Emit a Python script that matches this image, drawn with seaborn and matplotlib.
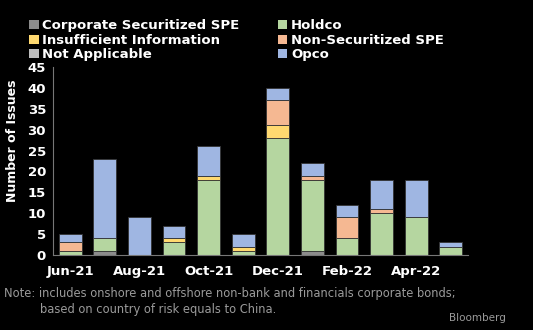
import matplotlib
matplotlib.use("Agg")
import matplotlib.pyplot as plt
from matplotlib.patches import Patch
import seaborn as sns
import numpy as np
import pandas as pd

months = ["Jun-21", "Jul-21", "Aug-21", "Sep-21", "Oct-21", "Nov-21",
          "Dec-21", "Jan-22", "Feb-22", "Mar-22", "Apr-22", "May-22"]
corp_sec_spe = [0, 1, 0, 0, 0, 0, 0, 1, 0, 0, 0, 0]
holdco = [1, 3, 0, 3, 18, 1, 28, 17, 4, 10, 9, 2]
insufficient = [0, 0, 0, 1, 1, 1, 3, 0, 0, 0, 0, 0]
non_sec_spe = [2, 0, 0, 0, 0, 0, 6, 1, 5, 1, 0, 0]
not_applicable = [0, 0, 0, 0, 0, 0, 0, 0, 0, 0, 0, 0]
opco = [2, 19, 9, 3, 7, 3, 3, 3, 3, 7, 9, 1]

series = [
    ("Corporate Securitized SPE", corp_sec_spe, "#8c8c8c"),
    ("Holdco", holdco, "#b5d6a0"),
    ("Insufficient Information", insufficient, "#ffd970"),
    ("Non-Securitized SPE", non_sec_spe, "#f5b892"),
    ("Not Applicable", not_applicable, "#bdbdbd"),
    ("Opco", opco, "#9fb6e2"),
]

sns.set_style("dark")
plt.rcParams['font.family'] = ['DejaVu Sans']

fig = plt.figure(figsize=(5.33, 3.30), dpi=100, facecolor="black")
ax = fig.add_axes([53/533, 1 - 255/330, (468 - 53)/533, (255 - 67)/330])
ax.set_facecolor("black")

bottom = np.zeros(len(months))
for name, vals, color in series:
    df = pd.DataFrame({"month": months, "value": vals})
    sns.barplot(data=df, x="month", y="value", color=color, ax=ax,
                bottom=bottom.copy(), width=0.66, edgecolor="#333333",
                linewidth=0.6, saturation=1, errorbar=None)
    bottom += np.array(vals)

ax.set_xlim(-0.5, 11.5)
ax.set_ylim(0, 45)
ax.set_yticks(range(0, 46, 5))
ax.set_xticks(range(0, 12, 2))
ax.set_xticklabels(months[::2])
ax.set_xlabel("")
ax.set_ylabel("Number of Issues", color="white", fontsize=9, fontweight="bold")
ax.yaxis.set_label_coords(-0.082, 0.61)
ax.tick_params(axis="both", colors="white", labelsize=9.5, length=3, width=0.6)
ax.tick_params(axis="x", length=0, pad=7)
ax.tick_params(axis="y", pad=2, color="#777777")
for lbl in ax.get_xticklabels() + ax.get_yticklabels():
    lbl.set_fontweight("bold")
    lbl.set_color("white")
ax.grid(False)
for s in ["top", "right"]:
    ax.spines[s].set_visible(False)
for s in ["left", "bottom"]:
    ax.spines[s].set_visible(True)
    ax.spines[s].set_color("#777777")
    ax.spines[s].set_linewidth(0.8)

order = [0, 2, 4, 1, 3, 5]
handles = [Patch(facecolor=series[i][2], edgecolor="none") for i in order]
labels = [series[i][0] for i in order]
leg = fig.legend(handles, labels, ncol=2, loc="upper left",
                 bbox_to_anchor=(24/533, 1 - 14/330), frameon=False,
                 prop={"size": 9.5, "weight": "bold"}, handlelength=0.7,
                 handleheight=0.7, handletextpad=0.3, columnspacing=2.9,
                 labelspacing=0.12, borderaxespad=0)
for t in leg.get_texts():
    t.set_color("white")

fig.text(4/533, 1 - 293/330,
         "Note: includes onshore and offshore non-bank and financials corporate bonds;",
         color="#9a9a9a", fontsize=8.3, va="center", ha="left")
fig.text(40/533, 1 - 310/330, "based on country of risk equals to China.",
         color="#9a9a9a", fontsize=8.3, va="center", ha="left")
fig.text(506/533, 1 - 318/330, "Bloomberg", color="#9a9a9a", fontsize=7.5,
         va="center", ha="right")

fig.savefig("out.png", dpi=100, facecolor="black")
